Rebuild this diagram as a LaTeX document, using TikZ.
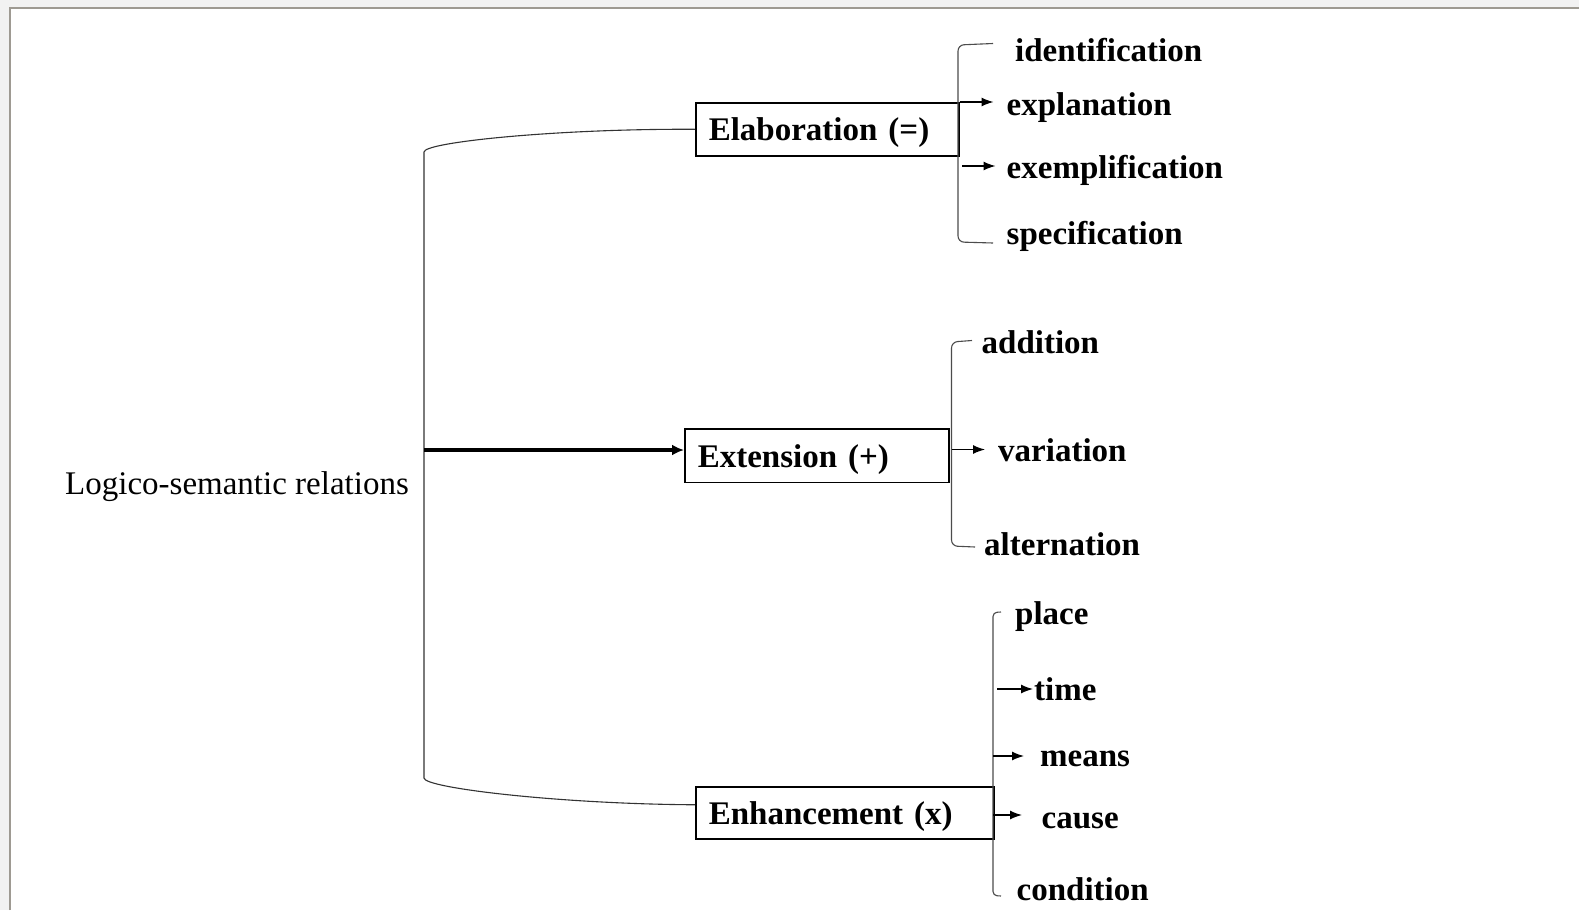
\documentclass[tikz,border=0pt]{standalone}
\usepackage{fontspec}
\setmainfont{Liberation Serif}
\usetikzlibrary{arrows.meta,calc}
\definecolor{framegray}{HTML}{9E9A92}
\newcommand\tightwords{\spaceskip 6pt\relax}
\begin{document}
\begin{tikzpicture}[x=1pt,y=-1pt,
  every node/.style={font=\fontsize{33}{40}\selectfont},
  catbox/.style={draw, line width=1.6pt, anchor=north west, inner xsep=13pt,
    inner ysep=0pt, align=left, text height=25pt, text depth=2pt,
    font=\fontsize{33}{40}\selectfont\bfseries\tightwords},
  leaf/.style={anchor=base west, inner sep=0pt,
    font=\fontsize{33}{40}\selectfont\bfseries},
  brace/.style={line width=1.1pt, draw=black!70, rounded corners=6pt},
  link/.style={line width=1.1pt, draw=black!80},
  tip/.style={line width=1.3pt, -{Latex[length=12pt,width=9pt]}},
  feed/.style={line width=3.2pt, -{Latex[length=12pt,width=11pt]}}
]
\useasboundingbox (0,0) rectangle (1579,910);
% page background and frame
\fill[black!5] (0,0) rectangle (1579,910);
\fill[white] (10,8) rectangle (1579,910);
\draw[line width=2pt, framegray] (10,910) -- (10,8) -- (1579,8);

% root label
\node[anchor=base west, inner sep=0pt] (root) at (65,494.5) {Logico-semantic relations};

% category boxes
\node[catbox, text width=237pt, minimum height=53pt] (elab) at (695,102) {Elaboration (=)};
\node[catbox, text width=238pt, minimum height=53.5pt] (ext) at (684,428) {Extension (+)};
\node[catbox, text width=272pt, minimum height=52pt] (enh) at (695,786) {Enhancement (x)};

% trunk from the root to the three categories
\coordinate (ttop) at (424,152);
\coordinate (tbot) at (424,778);
\coordinate (tmid) at (424,450);
\coordinate (enhin) at ($(enh.north west)!0.35!(enh.south west)$);
\draw[link] (elab.west) .. controls (560,128.5) and (424,142) .. (ttop)
  -- (tbot) .. controls (424,788) and (560,804) .. (enhin);
\draw[feed] (tmid) -- (tmid -| ext.west);

% elaboration subtypes
\node[leaf] (ident) at (1015,61) {identification};
\node[leaf] (expl) at (1006.5,115) {explanation};
\node[leaf] (exem) at (1006.5,178) {exemplification};
\node[leaf] (spec) at (1006.5,244) {specification};
\draw[brace] (993,43.5) -- (958,45) -- (958,242) -- (993,243);
\coordinate (e2) at (962,166);
\draw[tip] (elab.north east) -- ([xshift=-13pt]expl.west |- elab.north east);
\draw[tip] (e2) -- ([xshift=-11pt]e2 -| exem.west);

% extension subtypes
\node[leaf] (add) at (981.5,353) {addition};
\node[leaf] (vari) at (998,461) {variation};
\node[leaf] (alt) at (984,555) {alternation};
\draw[brace] (972,340.5) -- (951.5,342) -- (951.5,546) -- (975,547);
\coordinate (x2) at (951.5,449.5);
\draw[tip] (x2) -- ([xshift=-13pt]x2 -| vari.west);

% enhancement subtypes
\node[leaf] (place) at (1015,624) {place};
\node[leaf] (time) at (1034,700) {time};
\node[leaf] (means) at (1040,766) {means};
\node[leaf] (cause) at (1041.5,828) {cause};
\node[leaf] (cond) at (1016.5,900) {condition};
\draw[brace, rounded corners=4pt] (1001,612) -- (993,612.5) -- (993,895.5) -- (1001,896);
\coordinate (n1) at (997,689);
\coordinate (n2) at (993,756);
\coordinate (n3) at (993,815);
\draw[tip] (n1) -- ([xshift=-1pt]n1 -| time.west);
\draw[tip] (n2) -- ([xshift=-16pt]n2 -| means.west);
\draw[tip] (n3) -- ([xshift=-19.5pt]n3 -| cause.west);
\end{tikzpicture}
\end{document}
